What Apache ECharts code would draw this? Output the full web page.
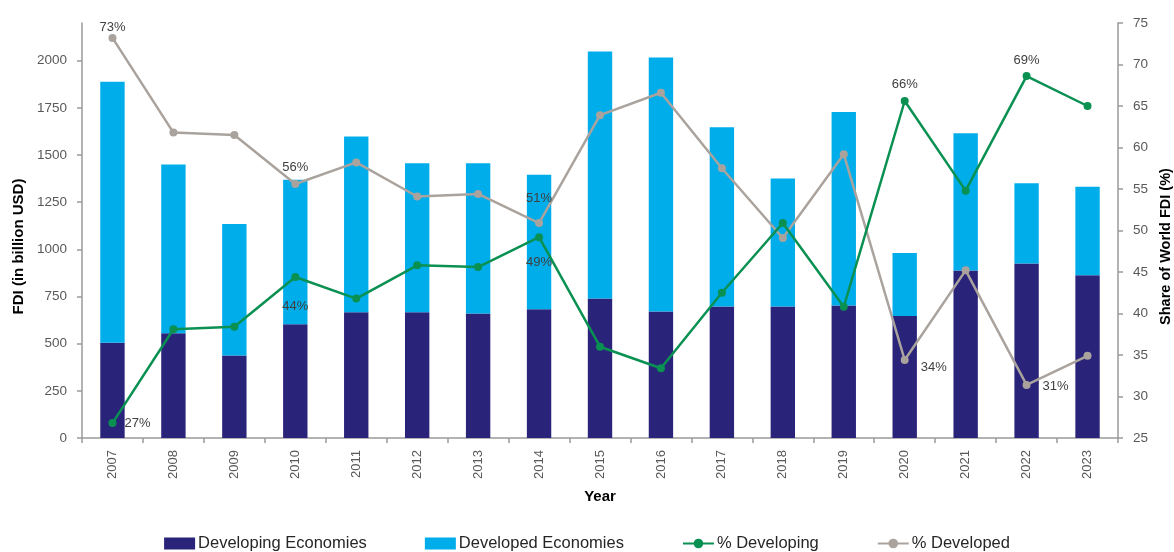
<!DOCTYPE html>
<html>
<head>
<meta charset="utf-8">
<style>
  html, body { margin: 0; padding: 0; background: #ffffff; }
  #chart { width: 1174px; height: 552px; }
</style>
<script src="https://cdn.jsdelivr.net/npm/echarts@6/dist/echarts.min.js"></script>
</head>
<body>
<div id="chart"></div>
<script>
// FDI inflows by economy group (billion USD) and share of world FDI (%)
const years = ['2007','2008','2009','2010','2011','2012','2013','2014','2015','2016','2017','2018','2019','2020','2021','2022','2023'];
const developingFDI = [505, 555, 437, 603, 667, 667, 660, 683, 739, 670, 697, 697, 702, 647, 888, 925, 863];
const developedFDI  = [1384, 895, 698, 766, 931, 790, 797, 712, 1310, 1347, 951, 679, 1026, 334, 728, 426, 469];
const pctDeveloping = [26.8, 38.1, 38.4, 44.4, 41.8, 45.8, 45.6, 49.2, 36.0, 33.4, 42.5, 50.9, 40.8, 65.6, 54.8, 68.6, 65.0];
const pctDeveloped  = [73.2, 61.8, 61.5, 55.6, 58.2, 54.1, 54.4, 50.9, 63.9, 66.6, 57.5, 49.1, 59.2, 34.4, 45.2, 31.4, 34.9];

// points that carry a percentage label: [position, distance, vertical offset]
const developingLabels = { 0: ['right', 8, 0], 3: ['bottom', 19, 0], 7: ['bottom', 15, 0], 13: ['top', 6, 0], 15: ['top', 5, 0] };
const developedLabels  = { 0: ['top', 0, 0], 3: ['top', 6, 0], 7: ['top', 14, 0], 13: ['right', 12, 7], 15: ['right', 12, 2] };

const FONT = '"Liberation Sans", "Noto Sans", sans-serif';
const AXIS_GREY = '#9a9a9a';
const TEXT_GREY = '#595959';

function labelled(values, labels) {
  return values.map((v, i) => {
    const cfg = labels[i];
    if (!cfg) return v;
    return { value: v, label: { show: true, position: cfg[0], distance: cfg[1], offset: [0, cfg[2]] } };
  });
}

const pctLabel = {
  fontFamily: FONT, fontSize: 13, color: '#404040',
  formatter: p => Math.round(p.value) + '%'
};

const chart = echarts.init(document.getElementById('chart'), null, { renderer: 'canvas' });
chart.setOption({
  animation: false,
  backgroundColor: '#ffffff',
  textStyle: { fontFamily: FONT },
  grid: { left: 82, right: 56, top: 23, bottom: 114, containLabel: false, outerBoundsMode: 'none' },
  legend: {
    top: 535,
    left: 'center',
    padding: 0,
    itemGap: 58,
    itemWidth: 31,
    itemHeight: 12,
    textStyle: { fontFamily: FONT, fontSize: 16.5, color: '#262626', padding: [0, 0, 0, -2] },
    data: [
      { name: 'Developing Economies', icon: 'rect' },
      { name: 'Developed Economies', icon: 'rect' },
      { name: '% Developing' },
      { name: '% Developed' }
    ]
  },
  xAxis: {
    type: 'category',
    data: years,
    name: 'Year',
    nameLocation: 'middle',
    nameGap: 51,
    nameTextStyle: { fontFamily: FONT, fontSize: 15, fontWeight: 'bold', color: '#000' },
    axisLine: { lineStyle: { color: AXIS_GREY, width: 1.5 } },
    axisTick: { show: true, length: 5, lineStyle: { color: AXIS_GREY, width: 1.5 } },
    axisLabel: { rotate: 90, fontFamily: FONT, fontSize: 13, color: TEXT_GREY, margin: 12 }
  },
  yAxis: [
    {
      type: 'value',
      min: 0, max: 2200, interval: 250,
      name: 'FDI (in billion USD)',
      nameLocation: 'middle',
      nameGap: 55,
      nameRotate: 90,
      nameTextStyle: { fontFamily: FONT, fontSize: 15, fontWeight: 'bold', color: '#000', padding: [0, 32, 0, 0] },
      axisLine: { show: true, lineStyle: { color: AXIS_GREY, width: 1.5 } },
      axisTick: { show: true, length: 5, lineStyle: { color: AXIS_GREY, width: 1.5 } },
      axisLabel: {
        fontFamily: FONT, fontSize: 13.5, color: TEXT_GREY, margin: 15, showMaxLabel: false,
        formatter: v => (v > 2000 ? '' : String(v))
      },
      splitLine: { show: false }
    },
    {
      type: 'value',
      min: 25, max: 75, interval: 5,
      position: 'right',
      name: 'Share of World FDI (%)',
      nameLocation: 'middle',
      nameGap: 38,
      nameRotate: 90,
      nameTextStyle: { fontFamily: FONT, fontSize: 14.5, fontWeight: 'bold', color: '#000', padding: [0, 32, 0, 0] },
      axisLine: { show: true, lineStyle: { color: AXIS_GREY, width: 1.5 } },
      axisTick: { show: true, length: 5, lineStyle: { color: AXIS_GREY, width: 1.5 } },
      axisLabel: { fontFamily: FONT, fontSize: 13.5, color: TEXT_GREY, margin: 15 },
      splitLine: { show: false }
    }
  ],
  series: [
    {
      name: 'Developing Economies',
      type: 'bar',
      stack: 'fdi',
      barWidth: '40%',
      itemStyle: { color: '#29237a' },
      data: developingFDI
    },
    {
      name: 'Developed Economies',
      type: 'bar',
      stack: 'fdi',
      barWidth: '40%',
      itemStyle: { color: '#00adeb' },
      data: developedFDI
    },
    {
      name: '% Developing',
      type: 'line',
      yAxisIndex: 1,
      symbol: 'circle',
      symbolSize: 8,
      lineStyle: { color: '#0a9152', width: 2.5 },
      itemStyle: { color: '#0a9152' },
      label: pctLabel,
      data: labelled(pctDeveloping, developingLabels),
      z: 4
    },
    {
      name: '% Developed',
      type: 'line',
      yAxisIndex: 1,
      symbol: 'circle',
      symbolSize: 8,
      lineStyle: { color: '#aaa39d', width: 2.5 },
      itemStyle: { color: '#aaa39d' },
      label: pctLabel,
      data: labelled(pctDeveloped, developedLabels),
      z: 3
    }
  ]
});
</script>
</body>
</html>
